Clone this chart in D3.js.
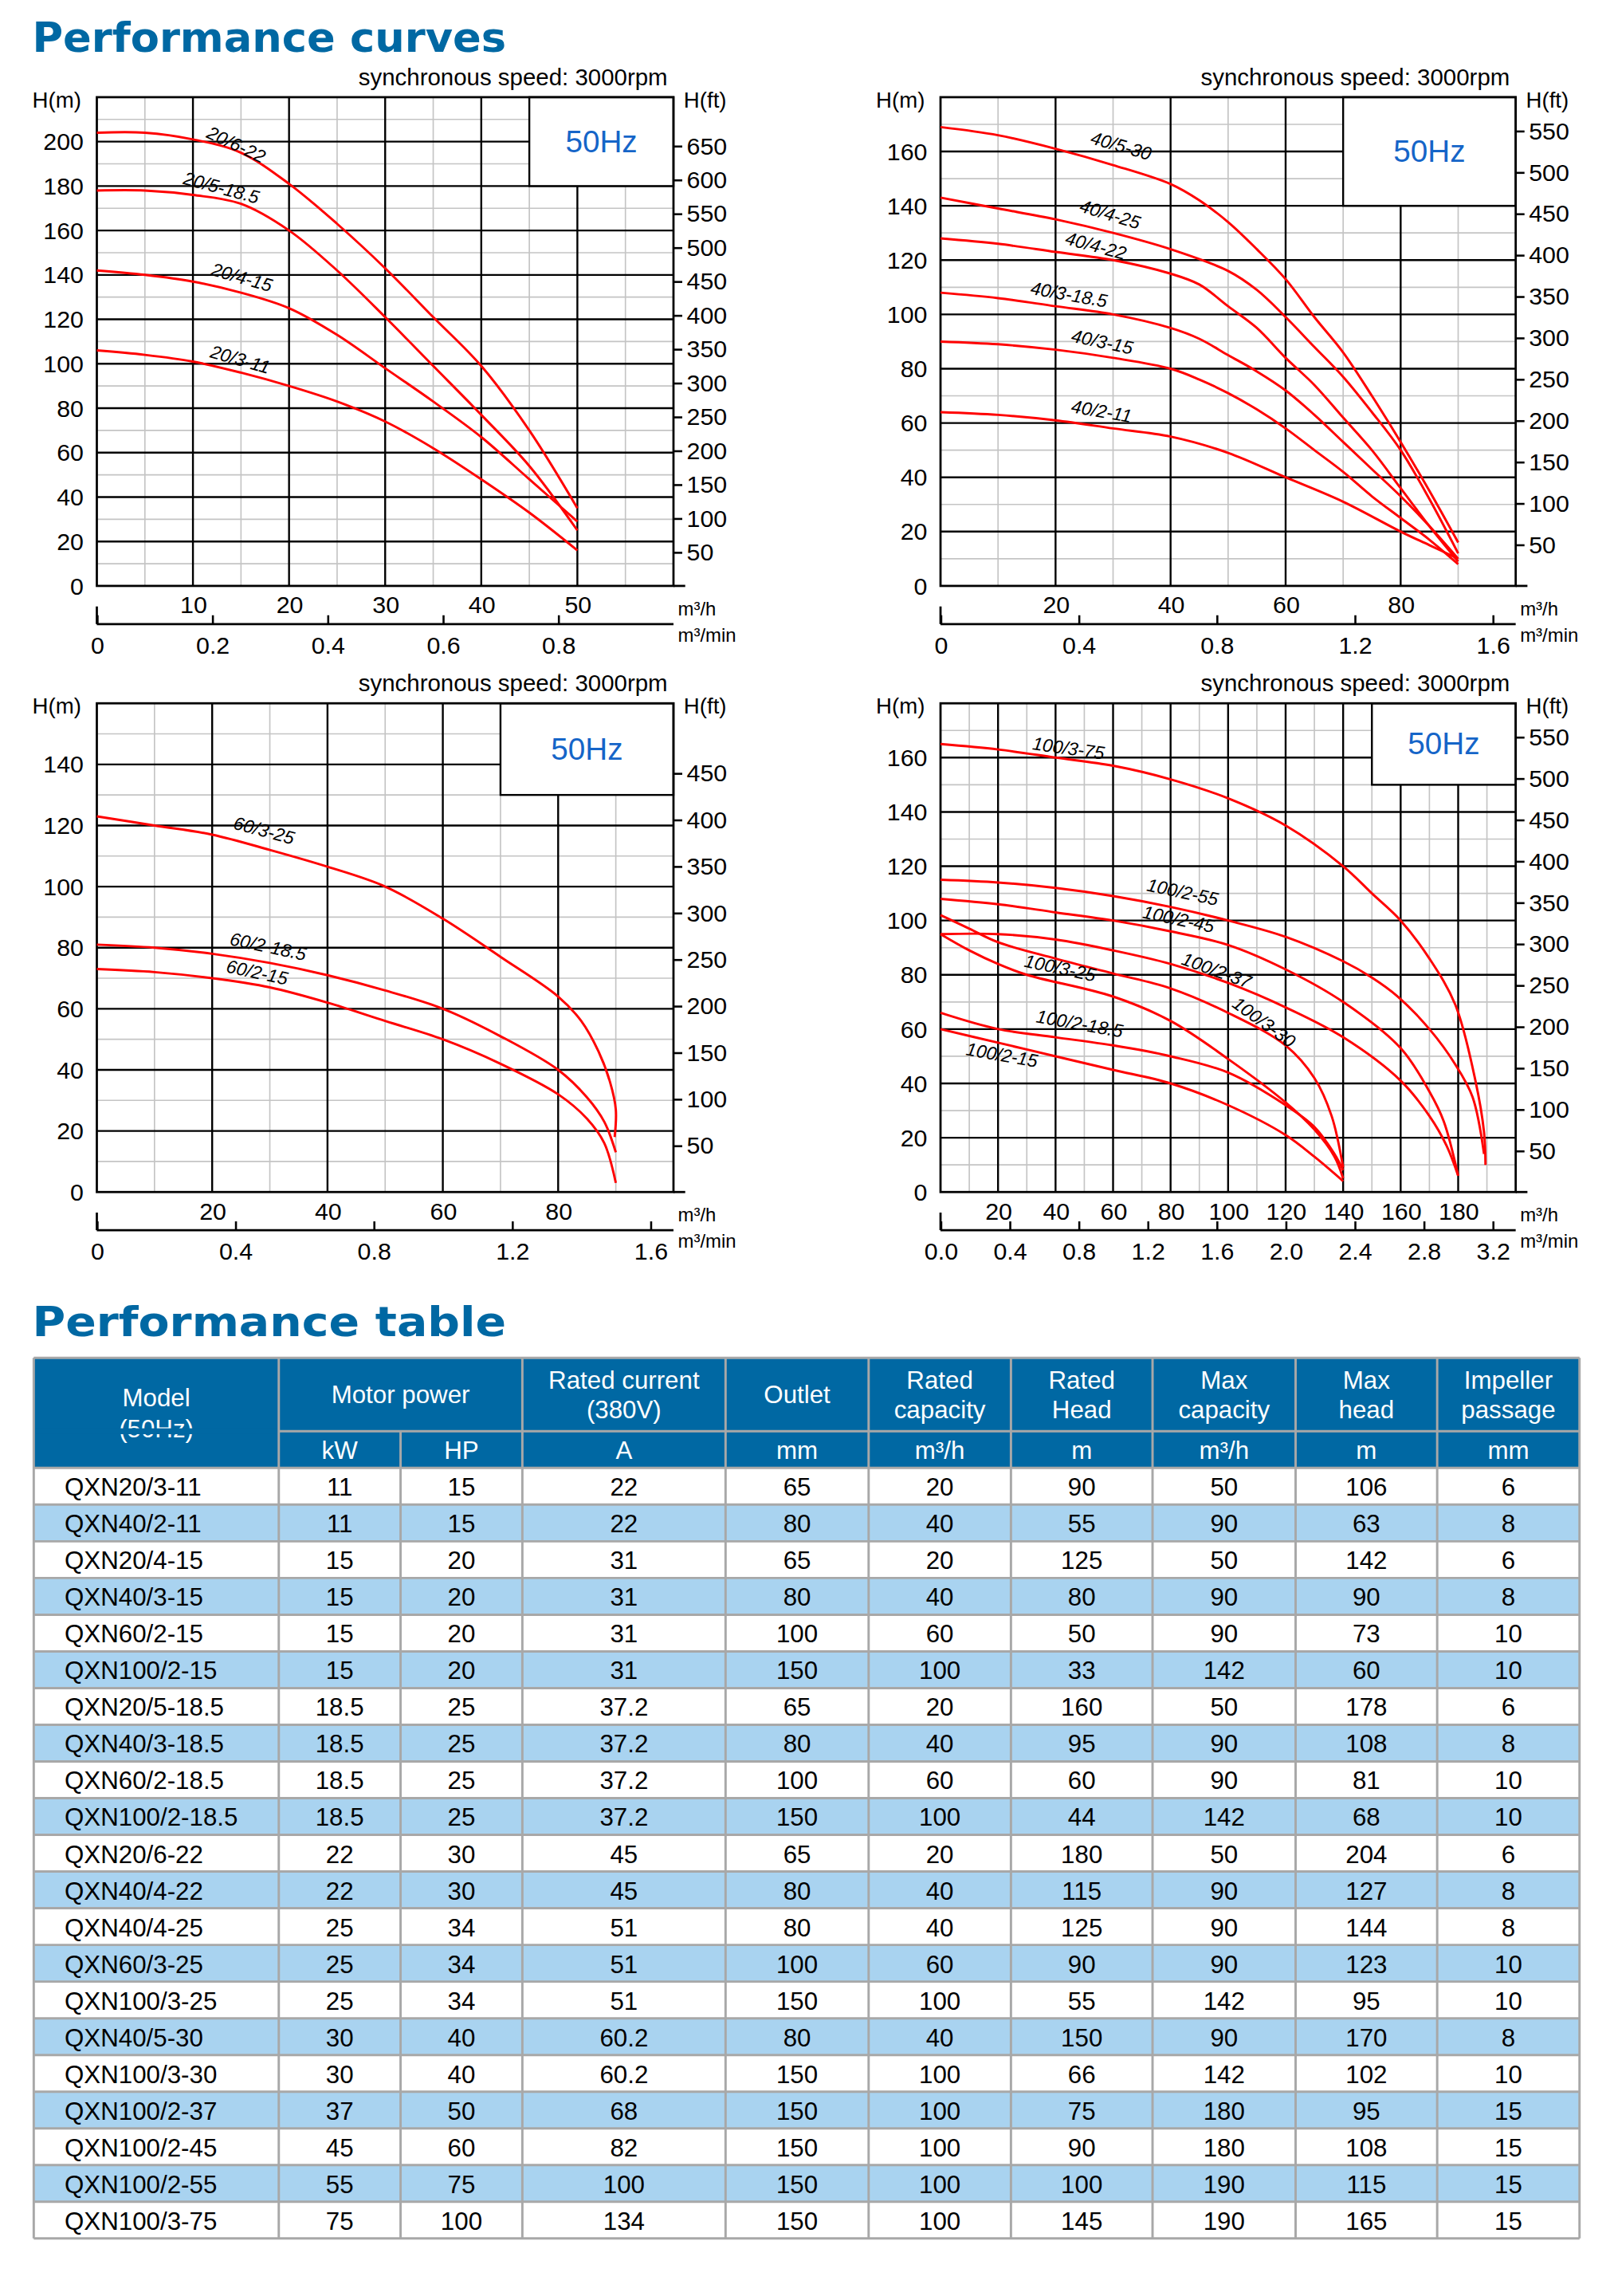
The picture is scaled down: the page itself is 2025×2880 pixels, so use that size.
<!DOCTYPE html>
<html>
<head>
<meta charset="utf-8">
<script src="https://cdn.jsdelivr.net/npm/d3@7"></script>
<style>
  body { margin: 0; background: #fff; }
  svg { display: block; }
  text { font-family: "Liberation Sans Narrow", "Liberation Sans", Arial, sans-serif; }
</style>
</head>
<body>
<div id="chart"></div>
<script>
// ---- chart data: [Q m3/h, H m] ----
var c1Names = ["20/6-22", "20/5-18.5", "20/4-15", "20/3-11"];
var c1Pts = [
  [[0,204],[5,204],[10,201],[15,195],[20,181],[25,163],[30,143],[35,121],[40,99],[45,70],[50,35]],
  [[0,178],[5,178],[10,176],[15,172],[20,160],[25,142],[30,121],[35,99],[40,77],[45,54],[50,25]],
  [[0,142],[5,140],[10,137],[15,132],[20,125],[25,113],[30,98],[35,83],[40,67],[45,48],[50,29]],
  [[0,106],[5,104],[10,101],[15,96],[20,90],[25,83],[30,74],[35,62],[40,48],[45,33],[50,16]]
];
var c1Lab = [[11.3,202,25],[8.9,181,15],[11.8,140,16],[11.7,103,16]];

var c2Names = ["40/5-30", "40/4-25", "40/4-22", "40/3-18.5", "40/3-15", "40/2-11"];
var c2Pts = [
  [[0,169],[10,166],[20,161],[30,155],[40,148],[45,142],[50,134],[55,124],[60,113],[65,99],[70,86],[75,70],[80,53],[85,35],[90,16]],
  [[0,143],[10,139],[20,135],[30,130],[40,124],[50,116],[55,109],[60,99],[65,88],[70,77],[75,64],[80,50],[85,32],[90,12]],
  [[0,128],[10,126],[20,123],[30,120],[40,115],[45,111],[50,103],[55,95],[60,84],[65,74],[70,62],[75,50],[80,36],[85,22],[90,9]],
  [[0,108],[10,106],[20,103],[30,100],[40,95],[45,91],[50,85],[55,79],[60,72],[65,63],[70,53],[75,43],[80,33],[85,22],[90,10]],
  [[0,90],[10,89],[20,87],[30,84],[40,80],[45,76],[50,71],[55,65],[60,58],[65,50],[70,42],[75,33],[80,25],[85,17],[90,8]],
  [[0,64],[10,63],[20,61],[30,58],[40,55],[50,49],[60,40],[70,31],[80,20],[85,15],[90,10]]
];
var c2Lab = [[25.9,163,16],[24,138,17],[21.5,126,15],[15.5,107.5,10],[22.6,90,12],[22.6,64,10]];

var c3Names = ["60/3-25", "60/2-18.5", "60/2-15"];
var c3Pts = [
  [[0,123],[10,120],[20,117],[30,112],[40,106.5],[50,100],[60,89.5],[70,77],[80,64],[84,56],[87,46],[89,36],[90,27],[89.8,18]],
  [[0,81],[10,80],[20,78],[30,75],[40,71],[50,66],[60,60],[70,51],[80,40],[85,31],[88,23],[90,13]],
  [[0,73],[10,72],[20,70],[30,67],[40,62],[50,56],[60,50],[70,42],[80,32],[85,24],[88,16],[90,3]]
];
var c3Lab = [[23.5,119,15],[22.9,81,12],[22.3,72,12]];

var c4Names = ["100/3-75", "100/2-55", "100/2-45", "100/2-37", "100/3-30", "100/3-25", "100/2-18.5", "100/2-15"];
var c4Pts = [
  [[0,165],[20,163],[40,160],[60,157],[80,152],[100,145],[120,135],[140,120],[150,110],[160,100],[170,86],[179,69],[186,41],[189,22],[189.5,10]],
  [[0,115],[20,114],[40,112],[60,109],[80,105],[100,100],[120,94],[140,85],[150,79],[159,72],[170,60],[179,47],[185,35],[189,14]],
  [[0,108],[20,106],[40,103],[60,100],[80,96],[100,91],[120,82],[140,70],[160,53],[170,37],[175,26],[180,6]],
  [[0,95],[20,95],[40,93],[60,89],[80,84],[100,77],[120,68],[140,57],[160,41],[170,28],[176,17],[180,6]],
  [[0,102],[10,97],[20,92],[40,86],[60,80.5],[80,75],[100,66],[120,54],[130,42],[136,28],[140,9]],
  [[0,95],[10,89],[20,84],[30,80],[60,72],[80,63],[100,49],[120,33],[130,23],[137,13],[140,5]],
  [[0,66],[20,60],[40,57],[60,54],[80,50],[100,44],[120,32],[130,24],[137,14],[140,8]],
  [[0,60],[20,55],[40,50],[60,45],[80,40],[100,32],[120,21],[130,13],[140,4]]
];
var c4Lab = [[31.7,163,8],[71.4,111,12],[70,101,12],[83.4,84,20],[101,68.5,36],[28.8,83,12],[33,62.5,10],[8.6,50.5,10]];

// ---- axes ----
var qTicks1 = [10,20,30,40,50], minTicks1 = [0,0.2,0.4,0.6,0.8], hTicks1 = [0,20,40,60,80,100,120,140,160,180,200], ftTicks1 = [50,100,150,200,250,300,350,400,450,500,550,600,650];
var qTicks2 = [20,40,60,80], minTicks2 = [0,0.4,0.8,1.2,1.6], hTicks2 = [0,20,40,60,80,100,120,140,160], ftTicks2 = [50,100,150,200,250,300,350,400,450,500,550];
var qTicks3 = [20,40,60,80], minTicks3 = [0,0.4,0.8,1.2,1.6], hTicks3 = [0,20,40,60,80,100,120,140], ftTicks3 = [50,100,150,200,250,300,350,400,450];
var qTicks4 = [20,40,60,80,100,120,140,160,180], minTicks4 = [0,0.4,0.8,1.2,1.6,2.0,2.4,2.8,3.2], hTicks4 = [0,20,40,60,80,100,120,140,160], ftTicks4 = [50,100,150,200,250,300,350,400,450,500,550];

// ---- table data ----
var tModels = ["QXN20/3-11","QXN40/2-11","QXN20/4-15","QXN40/3-15","QXN60/2-15","QXN100/2-15","QXN20/5-18.5","QXN40/3-18.5","QXN60/2-18.5","QXN100/2-18.5","QXN20/6-22","QXN40/4-22","QXN40/4-25","QXN60/3-25","QXN100/3-25","QXN40/5-30","QXN100/3-30","QXN100/2-37","QXN100/2-45","QXN100/2-55","QXN100/3-75"];
var tKw = ["11","11","15","15","15","15","18.5","18.5","18.5","18.5","22","22","25","25","25","30","30","37","45","55","75"];
var tHp = ["15","15","20","20","20","20","25","25","25","25","30","30","34","34","34","40","40","50","60","75","100"];
var tAmp = ["22","22","31","31","31","31","37.2","37.2","37.2","37.2","45","45","51","51","51","60.2","60.2","68","82","100","134"];
var tOutlet = ["65","80","65","80","100","150","65","80","100","150","65","80","80","100","150","80","150","150","150","150","150"];
var tRatedCap = ["20","40","20","40","60","100","20","40","60","100","20","40","40","60","100","40","100","100","100","100","100"];
var tRatedHead = ["90","55","125","80","50","33","160","95","60","44","180","115","125","90","55","150","66","75","90","100","145"];
var tMaxCap = ["50","90","50","90","90","142","50","90","90","142","50","90","90","90","142","90","142","180","180","190","190"];
var tMaxHead = ["106","63","142","90","73","60","178","108","81","68","204","127","144","123","95","170","102","95","108","115","165"];
var tPassage = ["6","8","6","8","10","10","6","8","10","10","6","8","8","10","10","8","10","15","15","15","15"];

var BLUE = "#0068a3";
var svg = d3.select("#chart").append("svg")
  .attr("width", 2025).attr("height", 2880)
  .attr("viewBox", "0 0 1100 1564");

function title(t, y) {
  svg.append("text").attr("x", 22).attr("y", y)
    .attr("font-family", "'DejaVu Sans', sans-serif").style("font-family", "'DejaVu Sans', sans-serif")
    .attr("font-weight", "bold").attr("font-size", 28).attr("fill", BLUE)
    .attr("textLength", 323).attr("lengthAdjust", "spacingAndGlyphs").text(t);
}
title("Performance curves", 35);
title("Performance table", 910);

function drawChart(o) {
  var g = svg.append("g");
  var x = d3.scaleLinear().domain([0, o.qMax]).range([o.left, o.right]);
  var y = d3.scaleLinear().domain([0, o.hMax]).range([o.bottom, o.top]);

  // minor grid
  d3.range(o.qMinor, o.qMax, o.qMinor).forEach(function (q) {
    if (q % o.qMajor !== 0) g.append("line").attr("x1", x(q)).attr("x2", x(q)).attr("y1", y(0)).attr("y2", y(o.hMax)).attr("stroke", "#c4c4c4").attr("stroke-width", 0.9);
  });
  d3.range(10, o.hMax, 10).forEach(function (h) {
    if (h % 20 !== 0) g.append("line").attr("x1", x(0)).attr("x2", x(o.qMax)).attr("y1", y(h)).attr("y2", y(h)).attr("stroke", "#c4c4c4").attr("stroke-width", 0.9);
  });
  // major grid
  d3.range(o.qMajor, o.qMax, o.qMajor).forEach(function (q) {
    g.append("line").attr("x1", x(q)).attr("x2", x(q)).attr("y1", y(0)).attr("y2", y(o.hMax)).attr("stroke", "#000").attr("stroke-width", 1.3);
  });
  d3.range(20, o.hMax, 20).forEach(function (h) {
    g.append("line").attr("x1", x(0)).attr("x2", x(o.qMax)).attr("y1", y(h)).attr("y2", y(h)).attr("stroke", "#000").attr("stroke-width", 1.3);
  });

  // 50Hz box
  g.append("rect").attr("x", x(o.box[0])).attr("y", y(o.hMax)).attr("width", x(o.qMax) - x(o.box[0]))
    .attr("height", y(o.box[1]) - y(o.hMax)).attr("fill", "#fff").attr("stroke", "#000").attr("stroke-width", 1.3);
  g.append("text").attr("x", (x(o.box[0]) + x(o.qMax)) / 2).attr("y", (y(o.hMax) + y(o.box[1])) / 2 + 7)
    .attr("text-anchor", "middle").attr("font-size", 21).attr("fill", "#1565c8")
    .style("font-family", "'Liberation Sans', Arial, sans-serif").text("50Hz");

  // frame
  g.append("rect").attr("x", o.left).attr("y", o.top).attr("width", o.right - o.left).attr("height", o.bottom - o.top)
    .attr("fill", "none").attr("stroke", "#000").attr("stroke-width", 1.5);

  // curves
  var line = d3.line().x(function (d) { return x(d[0]); }).y(function (d) { return y(d[1]); }).curve(d3.curveCatmullRom);
  g.selectAll("path.curve").data(o.pts).enter().append("path").attr("class", "curve")
    .attr("d", line).attr("fill", "none").attr("stroke", "#ff0000").attr("stroke-width", 1.6);
  o.names.forEach(function (n, i) {
    var l = o.lab[i];
    g.append("text").attr("transform", "translate(" + x(l[0]) + "," + y(l[1]) + ") rotate(" + l[2] + ")")
      .attr("font-size", 12.5).attr("fill", "#000").style("font-style", "italic")
      .style("font-family", "'Liberation Sans', Arial, sans-serif").text(n);
  });

  // left axis
  g.append("g").attr("transform", "translate(" + o.left + ",0)")
    .call(d3.axisLeft(y).tickValues(o.hTicks).tickSize(0).tickPadding(9))
    .call(function (a) { a.select(".domain").remove(); a.selectAll("text").attr("font-size", 16.5).attr("font-family", null); });
  // bottom axis m3/h
  g.append("g").attr("transform", "translate(0," + o.bottom + ")")
    .call(d3.axisBottom(x).tickValues(o.qTicks).tickSize(0).tickPadding(7))
    .call(function (a) { a.select(".domain").remove(); a.selectAll("text").attr("font-size", 16.5).attr("font-family", null); });
  g.append("line").attr("x1", o.right).attr("x2", o.right + 8).attr("y1", o.bottom).attr("y2", o.bottom).attr("stroke", "#000").attr("stroke-width", 1.5);
  // right axis ft
  var yft = d3.scaleLinear().domain([0, o.hMax * 3.2808]).range([o.bottom, o.top]);
  g.append("g").attr("transform", "translate(" + o.right + ",0)")
    .call(d3.axisRight(yft).tickValues(o.ftTicks).tickSize(6).tickPadding(3))
    .call(function (a) { a.select(".domain").remove(); a.selectAll("line").attr("stroke-width", 1.4); a.selectAll("text").attr("font-size", 16.5).attr("font-family", null); });
  // m3/min axis
  var xm = d3.scaleLinear().domain([0, o.qMax / 60]).range([o.left, o.right]);
  var ay = o.bottom + 26;
  g.append("g").attr("transform", "translate(0," + ay + ")")
    .call(d3.axisTop(xm).tickValues(o.minTicks).tickSize(6).tickFormat(d3.format(o.minFmt)))
    .call(function (a) {
      a.select(".domain").attr("d", "M" + o.left + ",0H" + o.right).attr("stroke-width", 1.5);
      a.selectAll("line").attr("stroke-width", 1.4);
      a.selectAll("text").attr("font-size", 16.5).attr("font-family", null).attr("y", 20);
    });
  g.append("line").attr("x1", o.left).attr("x2", o.left).attr("y1", ay - 12).attr("y2", ay).attr("stroke", "#000").attr("stroke-width", 1.5);

  // unit labels
  g.append("text").attr("x", o.left - 44).attr("y", o.top + 7).attr("font-size", 15).text("H(m)");
  g.append("text").attr("x", o.right + 7).attr("y", o.top + 7).attr("font-size", 15).text("H(ft)");
  g.append("text").attr("x", o.right + 3).attr("y", o.bottom + 20).attr("font-size", 13).text("m³/h");
  g.append("text").attr("x", o.right + 3).attr("y", o.bottom + 38).attr("font-size", 13).text("m³/min");
  g.append("text").attr("x", o.right - 4).attr("y", o.top - 8).attr("text-anchor", "end").attr("font-size", 16).text("synchronous speed: 3000rpm");
}

drawChart({ left: 66, right: 459, top: 66, bottom: 399, qMax: 60, hMax: 220, qMinor: 5, qMajor: 10, box: [45, 180],
  pts: c1Pts, names: c1Names, lab: c1Lab, hTicks: hTicks1, qTicks: qTicks1, ftTicks: ftTicks1, minTicks: minTicks1, minFmt: "" });
drawChart({ left: 641, right: 1033, top: 66, bottom: 399, qMax: 100, hMax: 180, qMinor: 10, qMajor: 20, box: [70, 140],
  pts: c2Pts, names: c2Names, lab: c2Lab, hTicks: hTicks2, qTicks: qTicks2, ftTicks: ftTicks2, minTicks: minTicks2, minFmt: "" });
drawChart({ left: 66, right: 459, top: 479, bottom: 812, qMax: 100, hMax: 160, qMinor: 10, qMajor: 20, box: [70, 130],
  pts: c3Pts, names: c3Names, lab: c3Lab, hTicks: hTicks3, qTicks: qTicks3, ftTicks: ftTicks3, minTicks: minTicks3, minFmt: "" });
drawChart({ left: 641, right: 1033, top: 479, bottom: 812, qMax: 200, hMax: 180, qMinor: 10, qMajor: 20, box: [150, 150],
  pts: c4Pts, names: c4Names, lab: c4Lab, hTicks: hTicks4, qTicks: qTicks4, ftTicks: ftTicks4, minTicks: minTicks4, minFmt: ".1f" });

// ---- table ----
var colX = [23, 190, 273, 356, 494.5, 592, 689, 785.5, 883, 979.5, 1076.5];
var tTop = 925, tSplit = 975, tHead = 1000, rowH = 25;
var tg = svg.append("g");
var cols = [tModels, tKw, tHp, tAmp, tOutlet, tRatedCap, tRatedHead, tMaxCap, tMaxHead, tPassage];
var yRow = d3.scaleBand().domain(d3.range(tModels.length)).range([tHead, tHead + rowH * tModels.length]);

tg.append("rect").attr("x", colX[0]).attr("y", tTop).attr("width", colX[10] - colX[0]).attr("height", tHead - tTop).attr("fill", BLUE);
tModels.forEach(function (m, i) {
  tg.append("rect").attr("x", colX[0]).attr("y", yRow(i)).attr("width", colX[10] - colX[0]).attr("height", rowH)
    .attr("fill", i % 2 ? "#a9d3f0" : "#fff");
  cols.forEach(function (c, j) {
    tg.append("text").attr("x", j === 0 ? 44 : (colX[j] + colX[j + 1]) / 2).attr("y", yRow(i) + 19)
      .attr("text-anchor", j === 0 ? "start" : "middle").attr("font-size", 17).text(c[i]);
  });
});

var GRAY = "#a8a8a8";
function hl(y, x1, x2) { tg.append("line").attr("x1", x1).attr("x2", x2).attr("y1", y).attr("y2", y).attr("stroke", GRAY).attr("stroke-width", 1.6); }
function vl(x, y1, y2) { tg.append("line").attr("x1", x).attr("x2", x).attr("y1", y1).attr("y2", y2).attr("stroke", GRAY).attr("stroke-width", 1.6); }
var tBottom = tHead + rowH * tModels.length;
hl(tTop, colX[0], colX[10]);
hl(tSplit, colX[1], colX[10]);
d3.range(0, tModels.length + 1).forEach(function (i) { hl(tHead + i * rowH, colX[0], colX[10]); });
colX.forEach(function (cx, j) { vl(cx, j === 2 ? tSplit : tTop, tBottom); });

var heads = [["Model", "(50Hz)"], ["Motor power"], null, ["Rated current", "(380V)"], ["Outlet"], ["Rated", "capacity"], ["Rated", "Head"], ["Max", "capacity"], ["Max", "head"], ["Impeller", "passage"]];
heads.forEach(function (h, j) {
  if (!h) return;
  var cx = j === 1 ? (colX[1] + colX[3]) / 2 : (colX[j] + colX[j + 1]) / 2;
  var yb = j === 0 ? 944 : tTop;
  var bottom = j === 0 ? tHead : tSplit;
  var mid = (yb + bottom) / 2 + (j === 0 ? -4 : 0);
  h.forEach(function (s, k) {
    tg.append("text").attr("x", cx).attr("y", mid + 6 + (k - (h.length - 1) / 2) * 20)
      .attr("text-anchor", "middle").attr("font-size", 17).attr("fill", "#fff").text(s);
  });
});
// Model header spans both header rows
tg.selectAll("text").filter(function () { return this.textContent === "Model" || this.textContent === "(50Hz)"; })
  .attr("y", function () { return this.textContent === "Model" ? 958 : 979; });
var units = [null, "kW", "HP", "A", "mm", "m³/h", "m", "m³/h", "m", "mm"];
units.forEach(function (u, j) {
  if (!u) return;
  tg.append("text").attr("x", (colX[j] + colX[j + 1]) / 2).attr("y", 994)
    .attr("text-anchor", "middle").attr("font-size", 17).attr("fill", "#fff").text(u);
});
// mask header split line under Model column
tg.append("rect").attr("x", colX[0] + 1).attr("y", tSplit - 2).attr("width", colX[1] - colX[0] - 2).attr("height", 4).attr("fill", BLUE);
</script>
</body>
</html>
